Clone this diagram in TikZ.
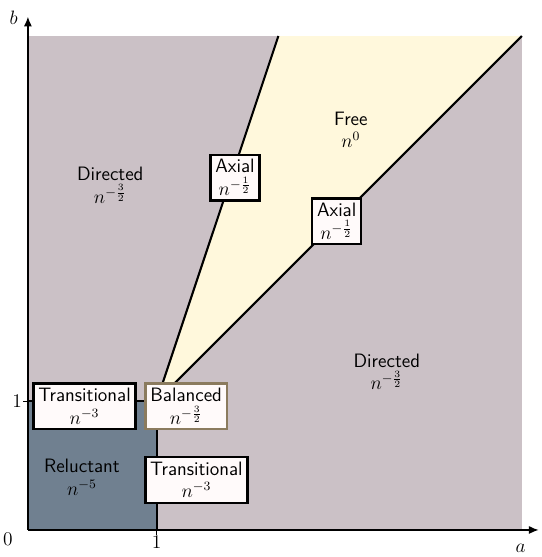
\documentclass[tikz,border=0pt]{standalone}
\usepackage{xcolor}
\usepackage{tikz}
\usepackage{amsmath}
\usetikzlibrary{arrows.meta}
\definecolor{phasemauve}{HTML}{CBC1C6}
\definecolor{phaseslate}{HTML}{708090}
\definecolor{phasecream}{HTML}{FFF8DC}
\definecolor{phasebox}{HTML}{FFFAFA}
\definecolor{phasetan}{HTML}{8B7B5E}

\begin{document}
\begin{tikzpicture}[x=2.8cm,y=2.8cm,font=\large,
  regime/.style={font=\large\sffamily,align=center,inner sep=1pt},
  regbox/.style={regime,draw,fill=phasebox,line width=1.4pt,inner sep=3pt},
  border/.style={line width=1.3pt}]
  \useasboundingbox (-0.217,-0.21) rectangle (3.99,4.12);
  % regions
  \fill[phasemauve] (0,0) rectangle (3.84,3.84);
  \fill[phaseslate] (0,0) rectangle (1,1);
  \fill[phasecream] (1,1) -- (3.84,3.84) -- (1.947,3.84) -- cycle;
  \coordinate (mid) at (1,1);
  \coordinate (leftend) at (0,1);
  \coordinate (downend) at (1,0);
  \coordinate (diagend) at (3.84,3.84);
  \coordinate (steepend) at (1.947,3.84);
  \draw[border] (leftend) -- (mid) -- (downend);
  \draw[border] (mid) -- (diagend);
  \draw[border] (mid) -- (steepend);
  % axes
  \coordinate (origin) at (0,0);
  \coordinate (xtip) at (3.97,0);
  \coordinate (ytip) at (0,3.99);
  \draw[line width=0.8pt,-{Latex[length=6pt,width=5pt]}] (origin) -- (xtip);
  \draw[line width=0.8pt,-{Latex[length=6pt,width=5pt]}] (origin) -- (ytip);
  \node (xlab) at (3.83,-0.14) {$a$};
  \node (ylab) at (-0.11,3.98) {$b$};
  \node (zero) at (-0.155,-0.075) {$0$};
  \draw[line width=0.6pt] (downend) -- +(0,-0.04) node[below=-3pt] (xone) {$1$};
  \draw[line width=0.6pt] (leftend) -- +(-0.04,0) node[left=-3pt] (yone) {$1$};
  % regimes
  \node[regime] (dirup) at (0.64,2.68) {Directed\\$n^{-\frac{3}{2}}$};
  \node[regime] (dirdown) at (2.79,1.23) {Directed\\$n^{-\frac{3}{2}}$};
  \node[regime] (free) at (2.51,3.11) {Free\\$n^{0}$};
  \node[regime] (reluct) at (0.42,0.41) {Reluctant\\$n^{-5}$};
  \node[regbox] (axsteep) at (1.61,2.74) {Axial\\$n^{-\frac{1}{2}}$};
  \node[regbox] (axdiag) at (2.40,2.40) {Axial\\$n^{-\frac{1}{2}}$};
  \node[regbox] (transleft) at (0.44,0.96) {Transitional\\$n^{-3}$};
  \node[regbox,draw=phasetan] (balanced) at (1.23,0.96) {Balanced\\$n^{-\frac{3}{2}}$};
  \node[regbox] (transdown) at (1.31,0.39) {Transitional\\$n^{-3}$};
\end{tikzpicture}
\end{document}
